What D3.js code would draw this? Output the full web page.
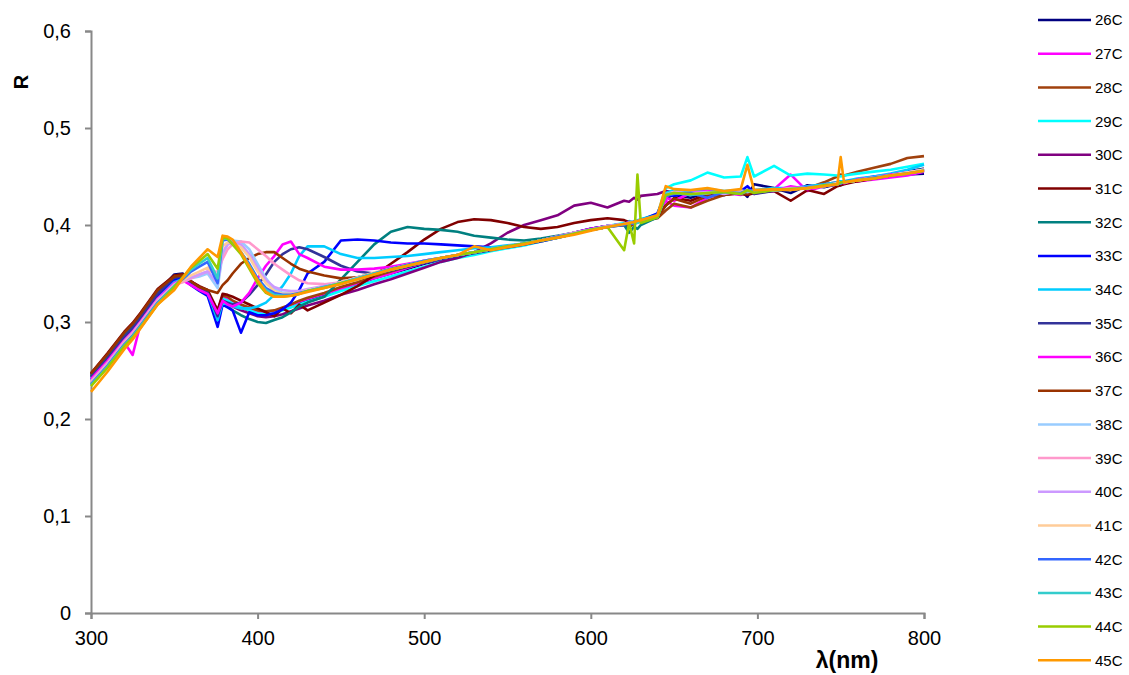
<!DOCTYPE html>
<html>
<head>
<meta charset="utf-8">
<script src="https://cdn.jsdelivr.net/npm/d3@7"></script>
<style>
  body { margin: 0; background: #fff; }
  #chart { width: 1129px; height: 675px; }
  text { font-family: "Liberation Sans", Arial, sans-serif; fill: #000; }
</style>
</head>
<body>
<div id="chart"></div>
<script>
// wavelength grid (nm), shared by all series
var wavelengths = [300,310,320,325,330,340,350,355,360,365,
  370,376,379,382,385,390,395,400,405,410,
  415,420,425,430,440,450,460,470,480,490,
  500,510,520,530,540,550,560,570,580,590,
  600,610,620,623,626,628,630,640,645,650,
  660,670,680,690,694,698,710,720,730,740,
  748,750,752,760,770,780,790,800];

var names = ["26C","27C","28C","29C","30C","31C","32C","33C","34C","35C",
  "36C","37C","38C","39C","40C","41C","42C","43C","44C","45C"];

var colors = ["#000080","#FF00FF","#A0410D","#00FFFF","#800080","#800000","#008080","#0000FF","#00CCFF","#333399",
  "#FF00FF","#993300","#99CCFF","#FF99CC","#CC99FF","#FFCC99","#3366FF","#33CCCC","#99CC00","#FF9900"];

var r26 = [.246,.265,.286,.295,.306,.330,.349,.350,.342,.336,
  .331,.305,.322,.322,.319,.315,.312,.309,.308,.310,
  .313,.316,.320,.323,.328,.334,.339,.345,.350,.355,
  .360,.364,.368,.371,.374,.377,.380,.384,.387,.391,
  .395,.398,.401,.399,.404,.403,.405,.409,.428,.431,
  .428,.434,.431,.436,.429,.442,.438,.433,.441,.439,
  .442,.441,.443,.446,.448,.450,.452,.453];
var r27 = [.240,.258,.279,.266,.300,.322,.342,.346,.340,.334,
  .330,.312,.326,.324,.320,.317,.313,.310,.309,.311,
  .314,.317,.321,.324,.329,.334,.340,.345,.350,.356,
  .361,.365,.368,.371,.374,.377,.380,.383,.387,.391,
  .395,.399,.401,.403,.402,.404,.405,.408,.425,.420,
  .418,.428,.433,.431,.436,.432,.437,.452,.435,.440,
  .442,.443,.444,.445,.447,.449,.451,.455];
var r28 = [.245,.266,.288,.297,.308,.332,.348,.349,.341,.335,
  .331,.311,.327,.326,.322,.318,.315,.312,.311,.312,
  .315,.318,.322,.325,.330,.336,.341,.347,.352,.357,
  .362,.366,.369,.372,.375,.378,.381,.384,.388,.392,
  .396,.399,.400,.398,.401,.403,.404,.407,.415,.422,
  .418,.425,.431,.433,.432,.434,.435,.437,.438,.444,
  .450,.452,.451,.455,.459,.463,.469,.471];
var r29 = [.242,.262,.284,.293,.304,.327,.344,.346,.340,.334,
  .330,.308,.324,.322,.319,.315,.312,.309,.308,.309,
  .312,.315,.318,.321,.326,.332,.337,.342,.347,.352,
  .357,.362,.366,.369,.373,.376,.379,.383,.387,.391,
  .395,.399,.402,.404,.403,.405,.406,.411,.438,.442,
  .446,.454,.449,.450,.470,.450,.461,.451,.453,.452,
  .451,.450,.451,.453,.455,.457,.460,.463];
var r30 = [.244,.263,.285,.294,.305,.328,.346,.347,.339,.333,
  .328,.306,.321,.319,.316,.312,.309,.306,.305,.306,
  .308,.311,.314,.317,.322,.328,.333,.339,.344,.350,
  .356,.362,.366,.372,.381,.392,.400,.405,.410,.420,
  .423,.418,.425,.424,.428,.426,.430,.432,.435,.434,
  .432,.433,.431,.434,.433,.435,.436,.437,.439,.442,
  .444,.445,.444,.447,.449,.452,.455,.458];
var r31 = [.247,.268,.290,.299,.310,.334,.348,.349,.342,.337,
  .333,.312,.329,.328,.326,.322,.318,.314,.310,.306,
  .314,.309,.318,.312,.320,.328,.337,.348,.360,.372,
  .385,.396,.403,.406,.405,.402,.398,.396,.398,.402,
  .405,.407,.405,.403,.402,.404,.403,.410,.420,.428,
  .425,.432,.433,.432,.431,.433,.435,.425,.436,.432,
  .440,.441,.442,.445,.448,.451,.454,.457];
var r32 = [.244,.264,.286,.295,.306,.329,.345,.347,.340,.334,
  .329,.303,.318,.316,.312,.307,.303,.300,.299,.302,
  .305,.310,.316,.320,.326,.344,.362,.380,.393,.398,
  .396,.395,.393,.389,.387,.385,.384,.386,.389,.392,
  .396,.399,.400,.392,.398,.396,.400,.408,.430,.433,
  .431,.433,.432,.434,.433,.434,.436,.437,.438,.441,
  .443,.444,.444,.447,.449,.452,.455,.458];
var r33 = [.241,.261,.283,.292,.303,.326,.343,.345,.338,.332,
  .327,.295,.318,.315,.312,.289,.310,.307,.307,.309,
  .313,.320,.333,.350,.362,.384,.385,.384,.382,.381,
  .381,.380,.379,.378,.377,.377,.380,.384,.388,.392,
  .396,.399,.401,.403,.402,.404,.405,.412,.432,.430,
  .435,.433,.432,.435,.440,.433,.436,.437,.439,.441,
  .443,.444,.444,.447,.450,.452,.455,.457];
var r34 = [.240,.259,.281,.290,.301,.324,.341,.344,.339,.334,
  .330,.302,.320,.318,.316,.314,.314,.316,.320,.328,
  .337,.350,.368,.378,.378,.370,.366,.366,.367,.368,
  .370,.372,.374,.376,.377,.379,.381,.384,.387,.391,
  .395,.399,.401,.403,.402,.404,.406,.410,.433,.436,
  .434,.437,.435,.436,.434,.436,.438,.438,.440,.442,
  .444,.445,.445,.448,.450,.453,.457,.462];
var r35 = [.243,.263,.285,.294,.305,.329,.346,.347,.341,.335,
  .331,.306,.322,.320,.318,.320,.328,.338,.349,.362,
  .370,.375,.377,.375,.367,.358,.352,.350,.353,.357,
  .361,.365,.368,.371,.374,.377,.380,.383,.387,.391,
  .395,.398,.401,.402,.403,.403,.405,.409,.431,.433,
  .431,.432,.434,.433,.436,.432,.435,.437,.438,.440,
  .442,.443,.444,.446,.449,.451,.454,.457];
var r36 = [.241,.260,.281,.290,.301,.324,.340,.343,.338,.333,
  .329,.309,.322,.318,.316,.320,.330,.345,.358,.368,
  .380,.383,.370,.366,.357,.354,.354,.355,.357,.360,
  .363,.366,.369,.372,.375,.378,.381,.384,.388,.392,
  .396,.399,.401,.403,.403,.404,.405,.409,.428,.425,
  .433,.435,.432,.436,.433,.436,.435,.440,.437,.441,
  .442,.444,.443,.447,.449,.452,.454,.457];
var r37 = [.247,.267,.289,.298,.309,.333,.347,.348,.342,.336,
  .333,.330,.338,.343,.350,.360,.366,.370,.372,.372,
  .366,.360,.355,.352,.348,.345,.346,.350,.354,.358,
  .363,.366,.369,.372,.375,.378,.381,.384,.388,.391,
  .395,.398,.400,.401,.402,.403,.404,.408,.420,.427,
  .422,.430,.431,.433,.432,.434,.436,.437,.438,.441,
  .443,.444,.444,.446,.449,.451,.454,.456];
var r38 = [.238,.257,.279,.288,.299,.322,.338,.342,.345,.347,
  .350,.335,.370,.380,.384,.383,.375,.360,.345,.334,
  .330,.330,.331,.333,.336,.340,.345,.350,.354,.358,
  .362,.366,.369,.372,.375,.378,.381,.384,.388,.392,
  .395,.399,.401,.402,.402,.404,.404,.409,.432,.434,
  .432,.433,.434,.433,.436,.434,.436,.437,.438,.441,
  .443,.444,.444,.446,.449,.451,.454,.457];
var r39 = [.239,.258,.280,.289,.300,.323,.338,.341,.345,.349,
  .352,.352,.365,.375,.380,.383,.382,.375,.368,.360,
  .354,.348,.343,.340,.339,.341,.345,.350,.355,.359,
  .363,.366,.369,.372,.375,.378,.381,.384,.388,.392,
  .395,.399,.401,.402,.403,.403,.405,.409,.431,.434,
  .432,.433,.434,.435,.434,.435,.436,.438,.438,.441,
  .442,.443,.444,.446,.449,.451,.454,.457];
var r40 = [.238,.257,.279,.288,.299,.322,.339,.343,.346,.349,
  .352,.340,.372,.380,.382,.380,.370,.356,.343,.336,
  .333,.332,.332,.334,.337,.341,.346,.350,.355,.359,
  .363,.366,.369,.372,.375,.378,.381,.384,.388,.391,
  .395,.398,.401,.402,.402,.403,.404,.409,.430,.433,
  .433,.434,.432,.435,.434,.435,.436,.437,.439,.440,
  .443,.444,.444,.446,.449,.451,.454,.457];
var r41 = [.237,.256,.278,.287,.298,.321,.338,.343,.348,.352,
  .356,.347,.378,.382,.381,.377,.367,.352,.340,.332,
  .329,.329,.330,.333,.336,.341,.346,.351,.355,.359,
  .363,.366,.369,.372,.375,.378,.381,.384,.388,.391,
  .395,.398,.401,.402,.403,.403,.404,.409,.431,.433,
  .432,.433,.434,.434,.435,.434,.436,.437,.438,.440,
  .443,.444,.444,.446,.449,.451,.454,.457];
var r42 = [.236,.255,.277,.286,.297,.320,.337,.344,.352,.357,
  .362,.340,.384,.385,.380,.372,.360,.345,.335,.330,
  .328,.328,.330,.332,.336,.340,.345,.350,.355,.359,
  .363,.366,.369,.372,.375,.378,.381,.384,.388,.391,
  .395,.398,.400,.402,.401,.403,.404,.408,.430,.432,
  .433,.428,.434,.433,.436,.434,.437,.436,.439,.440,
  .442,.443,.445,.446,.449,.451,.453,.456];
var r43 = [.235,.254,.276,.285,.296,.319,.337,.345,.354,.360,
  .366,.345,.386,.386,.381,.372,.358,.343,.333,.328,
  .327,.327,.329,.332,.336,.340,.345,.350,.354,.358,
  .362,.366,.369,.372,.375,.378,.381,.384,.387,.391,
  .395,.398,.401,.402,.403,.402,.404,.408,.432,.433,
  .431,.433,.434,.432,.435,.434,.436,.437,.438,.441,
  .442,.444,.444,.446,.448,.451,.453,.456];
var r44 = [.234,.253,.275,.284,.295,.318,.336,.346,.356,.363,
  .370,.355,.387,.386,.380,.370,.355,.340,.330,.326,
  .326,.327,.329,.332,.335,.340,.344,.349,.354,.358,
  .362,.366,.369,.372,.375,.378,.381,.384,.387,.391,
  .395,.398,.374,.402,.381,.452,.402,.408,.431,.433,
  .432,.433,.434,.432,.436,.433,.436,.437,.438,.441,
  .442,.444,.444,.446,.448,.451,.453,.456];
var r45 = [.228,.249,.272,.282,.294,.318,.333,.345,.357,.366,
  .375,.367,.389,.388,.385,.372,.357,.343,.331,.326,
  .326,.327,.329,.331,.335,.339,.344,.349,.354,.358,
  .362,.366,.369,.378,.374,.377,.380,.384,.387,.390,
  .394,.398,.401,.402,.403,.404,.405,.410,.440,.437,
  .436,.438,.435,.437,.462,.436,.437,.436,.438,.440,
  .442,.470,.444,.446,.448,.451,.453,.456];

var values = [r26,r27,r28,r29,r30,r31,r32,r33,r34,r35,
  r36,r37,r38,r39,r40,r41,r42,r43,r44,r45];

var xTicks = [300, 400, 500, 600, 700, 800];
var yTicks = [0, 0.1, 0.2, 0.3, 0.4, 0.5, 0.6];

var series = names.map(function(n, i) {
  return { name: n, color: colors[i], values: values[i] };
});

var width = 1129, height = 675;
var margin = {top: 31, right: 205, bottom: 62, left: 91};

var svg = d3.select("#chart").append("svg")
    .attr("width", width)
    .attr("height", height);

var x = d3.scaleLinear()
    .domain([300, 800])
    .range([margin.left, width - margin.right]);

var y = d3.scaleLinear()
    .domain([0, 0.6])
    .range([height - margin.bottom, margin.top]);

var fmt = function(d) { return d === 0 ? "0" : d3.format(".1f")(d).replace(".", ","); };

var axisColor = "#888";

var gy = svg.append("g")
    .attr("transform", "translate(" + margin.left + ",0)")
    .call(d3.axisLeft(y).tickValues(yTicks).tickFormat(fmt).tickSize(6).tickPadding(14));
var gx = svg.append("g")
    .attr("transform", "translate(0," + (height - margin.bottom) + ")")
    .call(d3.axisBottom(x).tickValues(xTicks).tickFormat(d3.format("d")).tickSize(6).tickPadding(12));

[gy, gx].forEach(function(g) {
  g.select(".domain").attr("stroke", axisColor).attr("stroke-width", 2);
  g.selectAll(".tick line").attr("stroke", axisColor).attr("stroke-width", 2);
  g.selectAll(".tick text")
    .style("font-family", "'Liberation Sans', Arial, sans-serif")
    .style("font-size", "20px")
    .attr("fill", "#000");
});

var line = d3.line()
    .x(function(d, i) { return x(wavelengths[i]); })
    .y(function(d) { return y(d); });

svg.append("g")
    .selectAll("path")
    .data(series)
    .enter().append("path")
      .attr("fill", "none")
      .attr("stroke", function(d) { return d.color; })
      .attr("stroke-width", 2.6)
      .attr("stroke-linejoin", "round")
      .attr("d", function(d) { return line(d.values); });

// axis titles
svg.append("text")
    .attr("transform", "translate(28,82) rotate(-90)")
    .attr("text-anchor", "middle")
    .style("font-size", "20px")
    .style("font-weight", "bold")
    .text("R");

svg.append("text")
    .attr("x", 847)
    .attr("y", 668)
    .attr("text-anchor", "middle")
    .style("font-size", "23px")
    .style("font-weight", "bold")
    .text("λ(nm)");

// legend
var legend = svg.append("g")
    .attr("transform", "translate(1038,20)")
  .selectAll("g")
  .data(series)
  .enter().append("g")
    .attr("transform", function(d, i) { return "translate(0," + (i * 33.7) + ")"; });

legend.append("line")
    .attr("x1", 0).attr("x2", 53)
    .attr("stroke", function(d) { return d.color; })
    .attr("stroke-width", 2.5);

legend.append("text")
    .attr("x", 57)
    .attr("dy", "0.36em")
    .style("font-size", "15px")
    .text(function(d) { return d.name; });
</script>
</body>
</html>
